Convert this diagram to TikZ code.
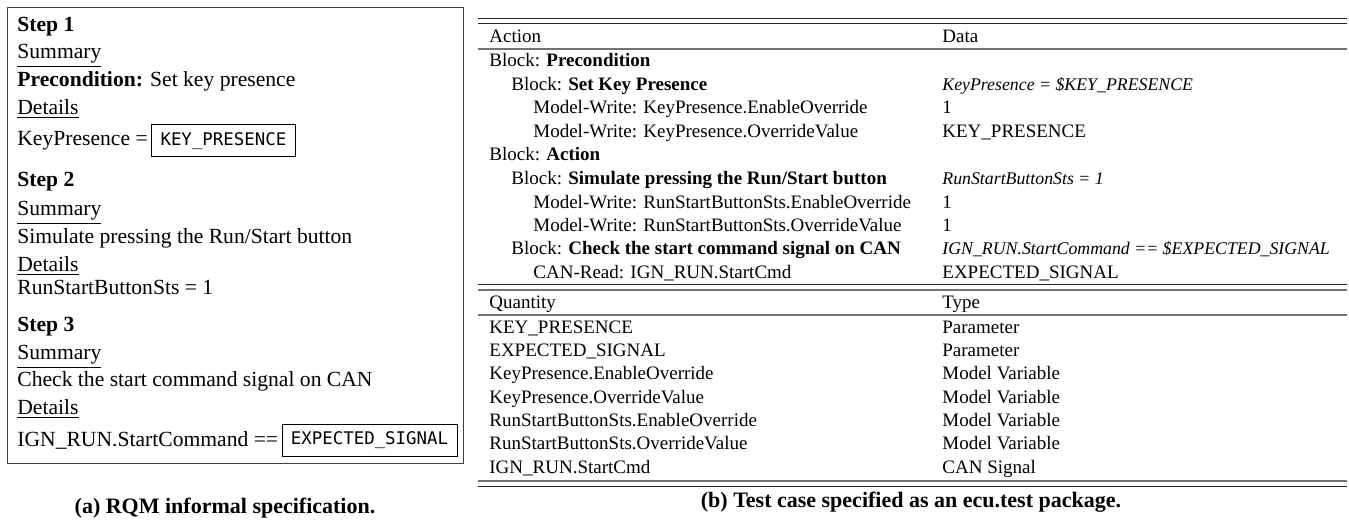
\documentclass[tikz,border=0pt]{standalone}
\usepackage{fontspec}
\setmainfont{Liberation Serif}
\newfontfamily\valfont{DejaVu Sans Mono}
\usetikzlibrary{positioning}

\tikzset{
  spec/.style={anchor=mid west, inner sep=0pt, yshift=-1pt, font=\fontsize{10.8}{13}\selectfont},
  cell/.style={anchor=mid west, inner sep=0pt, yshift=-1pt, font=\fontsize{9.5}{11}\selectfont},
  datait/.style={cell, font=\itshape\fontsize{8.9}{11}\selectfont},
  valbox/.style={draw, inner xsep=4.5pt, inner ysep=0pt, minimum height=16pt, font=\valfont\fontsize{8.7}{10}\selectfont},
  subcap/.style={inner sep=0pt, font=\bfseries\fontsize{11}{13}\selectfont},
  darkrule/.style={draw=black!85, line width=0.5pt},
  greyrule/.style={draw=black!55, line width=0.7pt}
}

\begin{document}
\begin{tikzpicture}[x=0.5pt, y=-0.5pt]
    \useasboundingbox (0,0) rectangle (1349,529);

    % (a) informal specification
    \node[draw=black!75, line width=0.7pt, minimum width=228pt, minimum height=228pt, anchor=north west] (specframe) at (7,7) {};
    \node[spec] (step1) at (17,25) {\textbf{Step 1}};
    \node[spec] (sum1) at (17,52) {\underline{Summary}};
    \node[spec] (pre) at (17,80) {\textbf{Precondition:} Set key presence};
    \node[spec] (det1) at (17,108) {\underline{Details}};
    \node[spec] (keyeq) at (17,139) {KeyPresence =};
    \node[valbox, right=1.5pt of keyeq] (keybox) {KEY\_PRESENCE};

    \node[spec] (step2) at (17,180) {\textbf{Step 2}};
    \node[spec] (sum2) at (17,209) {\underline{Summary}};
    \node[spec] (sim) at (17,237) {Simulate pressing the Run/Start button};
    \node[spec] (det2) at (17,265) {\underline{Details}};
    \node[spec] (runeq) at (17,288) {RunStartButtonSts = 1};

    \node[spec] (step3) at (17,325) {\textbf{Step 3}};
    \node[spec] (sum3) at (17,353) {\underline{Summary}};
    \node[spec] (chk) at (17,380) {Check the start command signal on CAN};
    \node[spec] (det3) at (17,408) {\underline{Details}};
    \node[spec] (igneq) at (17,440) {IGN\_RUN.StartCommand ==};
    \node[valbox, right=1.5pt of igneq] (sigbox) {EXPECTED\_SIGNAL};

    \node[subcap] (capa) at (225,508) {(a) RQM informal specification.};

    % (b) ecu.test package
    \coordinate (tl) at (478,19);
    \coordinate (tr) at (1347,19);
    \draw[darkrule] (tl) -- (tr);
    \draw[darkrule] ([yshift=-2.5pt]tl) -- ([yshift=-2.5pt]tr);
    \node[cell] (acthead) at (489,36) {Action};
    \node[cell] (datahead) at (942,36) {Data};
    \draw[greyrule] (478,49) -- (1347,49);

    \node[cell] (blkpre) at (489,60) {Block: \textbf{Precondition}};
    \node[cell] (blkkey) at (511,84) {Block: \textbf{Set Key Presence}};
    \node[cell] (mwkeyen) at (533,107) {Model-Write: KeyPresence.EnableOverride};
    \node[cell] (mwkeyval) at (533,131) {Model-Write: KeyPresence.OverrideValue};
    \node[cell] (blkact) at (489,154) {Block: \textbf{Action}};
    \node[cell] (blksim) at (511,178) {Block: \textbf{Simulate pressing the Run/Start button}};
    \node[cell] (mwrunen) at (533,202) {Model-Write: RunStartButtonSts.EnableOverride};
    \node[cell] (mwrunval) at (533,225) {Model-Write: RunStartButtonSts.OverrideValue};
    \node[cell] (blkchk) at (511,248) {Block: \textbf{Check the start command signal on CAN}};
    \node[cell] (canrd) at (533,272) {CAN-Read: IGN\_RUN.StartCmd};

    \node[datait] (dkey) at (942,84) {KeyPresence = \$KEY\_PRESENCE};
    \node[cell] (dkeyen) at (942,107) {1};
    \node[cell] (dkeyval) at (942,131) {KEY\_PRESENCE};
    \node[datait] (dsim) at (942,178) {RunStartButtonSts = 1};
    \node[cell] (drunen) at (942,202) {1};
    \node[cell] (drunval) at (942,225) {1};
    \node[datait] (dchk) at (942,248) {IGN\_RUN.StartCommand == \$EXPECTED\_SIGNAL};
    \node[cell] (dcan) at (942,272) {EXPECTED\_SIGNAL};

    \draw[darkrule] (478,285) -- (1347,285);
    \draw[greyrule] (478,290) -- (1347,290);
    \node[cell] (qhead) at (489,302) {Quantity};
    \node[cell] (thead) at (942,302) {Type};
    \draw[greyrule] (478,315) -- (1347,315);

    \node[cell] (qkey) at (489,327) {KEY\_PRESENCE};
    \node[cell] (qsig) at (489,350) {EXPECTED\_SIGNAL};
    \node[cell] (qkeyen) at (489,373) {KeyPresence.EnableOverride};
    \node[cell] (qkeyval) at (489,397) {KeyPresence.OverrideValue};
    \node[cell] (qrunen) at (489,420) {RunStartButtonSts.EnableOverride};
    \node[cell] (qrunval) at (489,443) {RunStartButtonSts.OverrideValue};
    \node[cell] (qign) at (489,467) {IGN\_RUN.StartCmd};

    \node[cell] (tkey) at (942,327) {Parameter};
    \node[cell] (tsig) at (942,350) {Parameter};
    \node[cell] (tkeyen) at (942,373) {Model Variable};
    \node[cell] (tkeyval) at (942,397) {Model Variable};
    \node[cell] (trunen) at (942,420) {Model Variable};
    \node[cell] (trunval) at (942,443) {Model Variable};
    \node[cell] (tign) at (942,467) {CAN Signal};

    \draw[greyrule] (478,481) -- (1347,481);
    \draw[darkrule] (478,486) -- (1347,486);

    \node[subcap] (capb) at (911,502) {(b) Test case specified as an ecu.test package.};
\end{tikzpicture}
\end{document}
